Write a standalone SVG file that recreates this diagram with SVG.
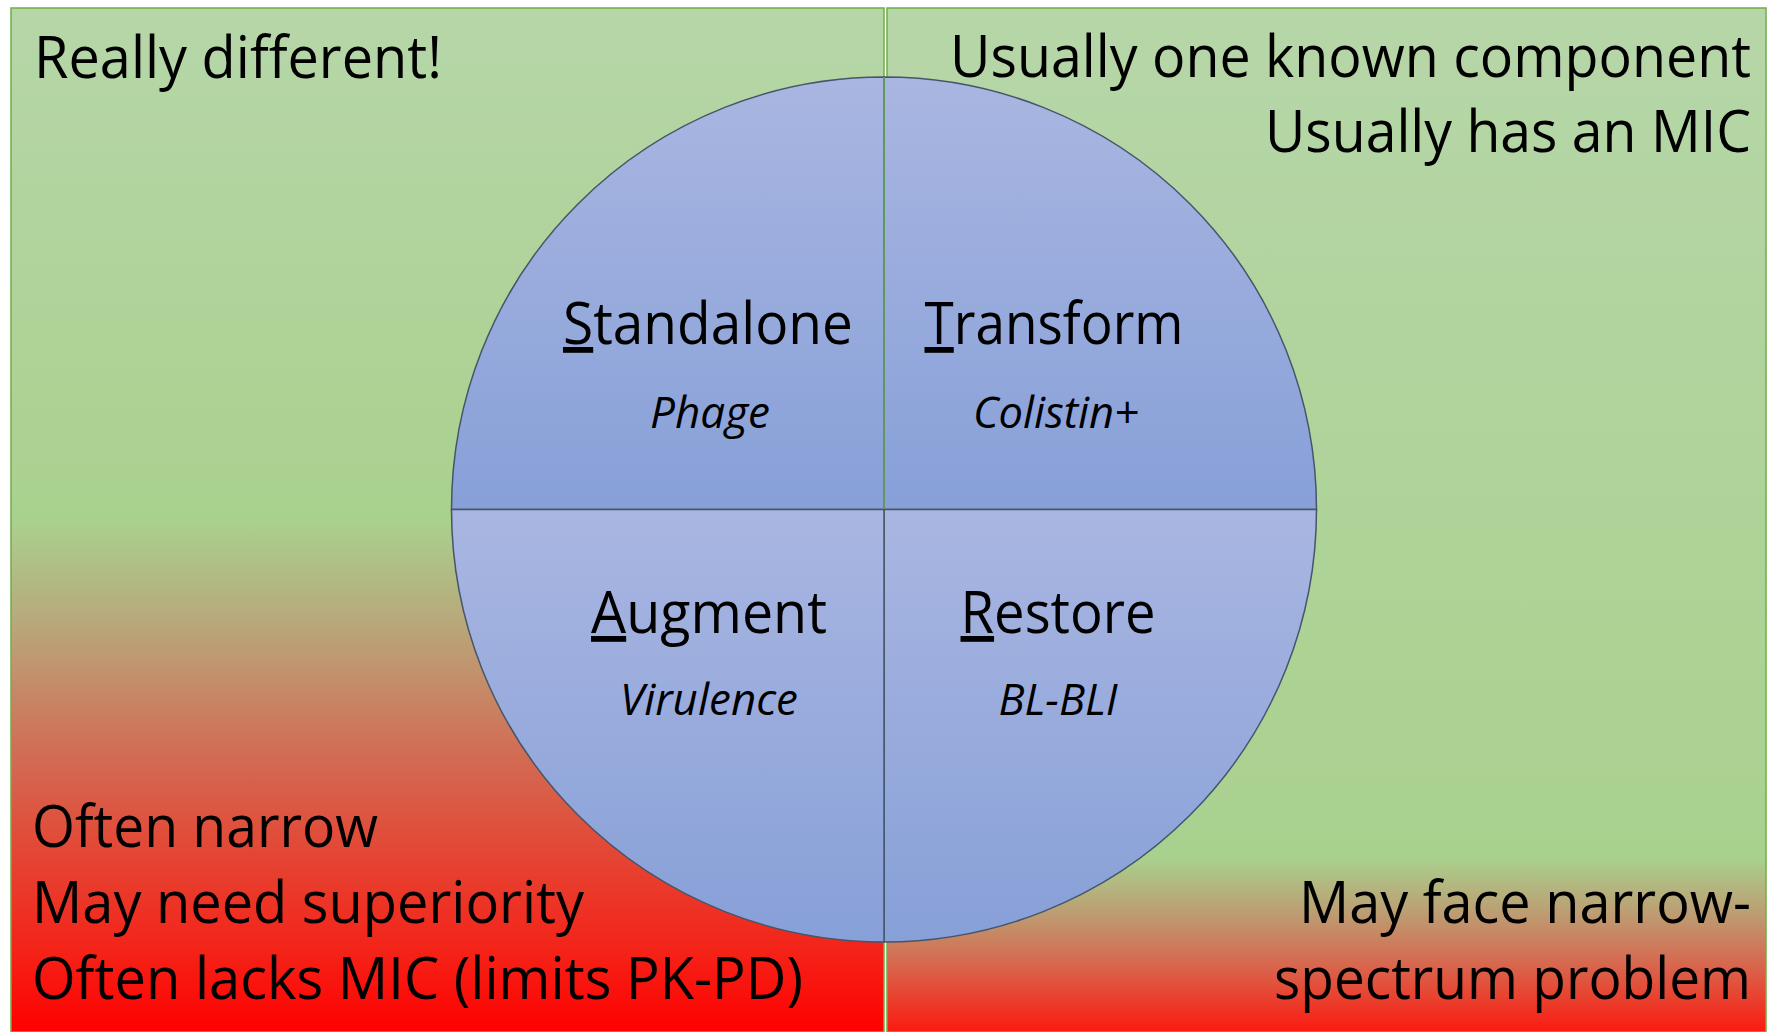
<svg xmlns="http://www.w3.org/2000/svg" width="1767" height="1032" viewBox="0 0 1767 1032">
<style>
.t{font-family:"Open Sans","Noto Sans","Liberation Sans",sans-serif;font-size:58px;fill:#000}
.s{font-family:"Open Sans","Noto Sans","Liberation Sans",sans-serif;font-size:43px;font-style:italic;fill:#000}
.q{stroke:#46556a;stroke-width:1.5}
.u{text-decoration:underline}
</style>
<defs>
<linearGradient id="gl" gradientUnits="userSpaceOnUse" x1="0" y1="8" x2="0" y2="1032">
<stop offset="0" stop-color="#b6d6a8"/>
<stop offset="0.5" stop-color="#a9d18e"/>
<stop offset="0.6" stop-color="#b8a87b"/>
<stop offset="0.72" stop-color="#d07057"/>
<stop offset="0.82" stop-color="#e34836"/>
<stop offset="0.92" stop-color="#f42318"/>
<stop offset="1" stop-color="#ff0000"/>
</linearGradient>
<linearGradient id="gr" gradientUnits="userSpaceOnUse" x1="0" y1="8" x2="0" y2="1032">
<stop offset="0" stop-color="#b6d6a8"/>
<stop offset="0.83" stop-color="#a9d18e"/>
<stop offset="0.885" stop-color="#bd9c72"/>
<stop offset="0.935" stop-color="#d8664d"/>
<stop offset="1" stop-color="#fb1a10"/>
</linearGradient>
<linearGradient id="gb" x1="0" y1="0" x2="0" y2="1">
<stop offset="0" stop-color="#a9b6e1"/>
<stop offset="1" stop-color="#87a0d8"/>
</linearGradient>
</defs>
<rect width="1767" height="1032" fill="#ffffff"/>
<g id="panel-left">
<rect x="11" y="8" width="873" height="1024" fill="url(#gl)" stroke="#70ad47" stroke-width="1.5"/>
<text class="t" x="34" y="78" textLength="408" lengthAdjust="spacingAndGlyphs">Really different!</text>
<text class="t" x="32" y="847" textLength="346" lengthAdjust="spacingAndGlyphs">Often narrow</text>
<text class="t" x="32" y="923" textLength="552" lengthAdjust="spacingAndGlyphs">May need superiority</text>
<text class="t" x="32" y="999" textLength="771" lengthAdjust="spacingAndGlyphs">Often lacks MIC (limits PK-PD)</text>
</g>
<g id="panel-right">
<rect x="887" y="8" width="879" height="1024" fill="url(#gr)" stroke="#70ad47" stroke-width="1.5"/>
<text class="t" x="950" y="77" textLength="801" lengthAdjust="spacingAndGlyphs">Usually one known component</text>
<text class="t" x="1265" y="152" textLength="486" lengthAdjust="spacingAndGlyphs">Usually has an MIC</text>
<text class="t" x="1299" y="923" textLength="452" lengthAdjust="spacingAndGlyphs">May face narrow-</text>
<text class="t" x="1274" y="999" textLength="477" lengthAdjust="spacingAndGlyphs">spectrum problem</text>
</g>
<g id="standalone">
<path class="q" d="M884,509.5 L451.5,509.5 A432.5,432.5 0 0 1 884,77 Z" fill="url(#gb)"/>
<text class="t" x="708" y="344" text-anchor="middle" textLength="290" lengthAdjust="spacingAndGlyphs"><tspan class="u">S</tspan>tandalone</text>
<text class="s" x="710" y="428" text-anchor="middle" textLength="120" lengthAdjust="spacingAndGlyphs">Phage</text>
</g>
<g id="transform">
<path class="q" d="M884,509.5 L884,77 A432.5,432.5 0 0 1 1316.5,509.5 Z" fill="url(#gb)"/>
<text class="t" x="1054" y="344" text-anchor="middle" textLength="259" lengthAdjust="spacingAndGlyphs"><tspan class="u">T</tspan>ransform</text>
<text class="s" x="1056" y="428" text-anchor="middle" textLength="166" lengthAdjust="spacingAndGlyphs">Colistin+</text>
</g>
<g id="restore">
<path class="q" d="M884,509.5 L1316.5,509.5 A432.5,432.5 0 0 1 884,942 Z" fill="url(#gb)"/>
<text class="t" x="1058" y="633" text-anchor="middle" textLength="195" lengthAdjust="spacingAndGlyphs"><tspan class="u">R</tspan>estore</text>
<text class="s" x="1058" y="715" text-anchor="middle" textLength="119" lengthAdjust="spacingAndGlyphs">BL-BLI</text>
</g>
<g id="augment">
<path class="q" d="M884,509.5 L884,942 A432.5,432.5 0 0 1 451.5,509.5 Z" fill="url(#gb)"/>
<text class="t" x="709" y="633" text-anchor="middle" textLength="236" lengthAdjust="spacingAndGlyphs"><tspan class="u">A</tspan>ugment</text>
<text class="s" x="709" y="715" text-anchor="middle" textLength="178" lengthAdjust="spacingAndGlyphs">Virulence</text>
</g>
<g id="connectors">
<line x1="884" y1="77" x2="884" y2="509" stroke="#6aa84f" stroke-width="1.5"/>
</g>
</svg>
